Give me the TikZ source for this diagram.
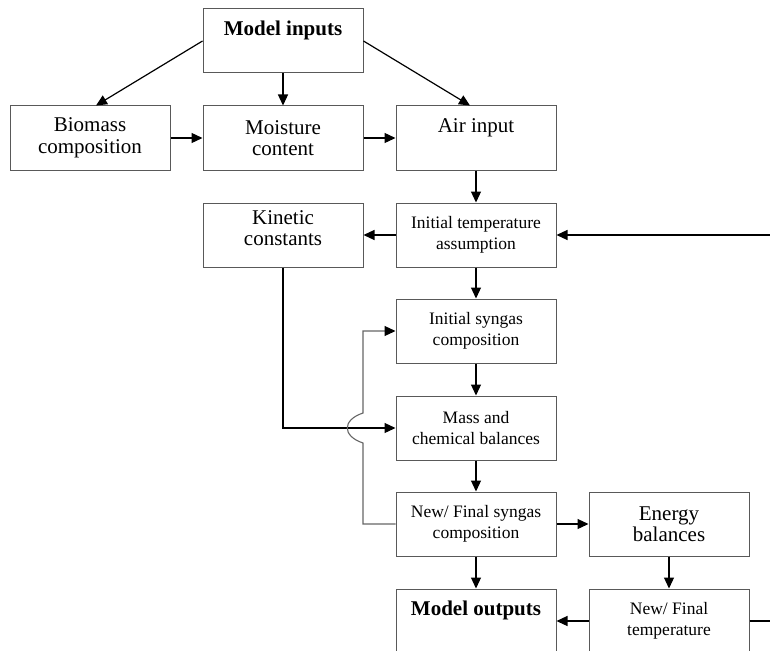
\documentclass[tikz,border=0pt]{standalone}
\usepackage{fontspec}
\setmainfont{Liberation Serif}
\usetikzlibrary{arrows.meta,calc}

\begin{document}
\begin{tikzpicture}[x=1pt,y=-1pt,
    box/.style={draw=black!65,line width=1pt,minimum width=160pt,minimum height=64pt,
      inner sep=0pt,align=center,font=\fontsize{21}{21.5}\selectfont},
    smallbox/.style={box,font=\fontsize{17.5}{20.5}\selectfont},
    boldbox/.style={box,font=\bfseries\fontsize{21}{21}\selectfont},
    arr/.style={line width=1.2pt,-{Triangle[length=11pt,width=10pt]}},
    loopline/.style={draw=black!60,line width=1.1pt,-{Triangle[length=11pt,width=10pt,color=black]}}]
    % columns and rows
    \def\xa{90}
    \def\xb{283}
    \def\xc{476}
    \def\xd{669}
    \def\ya{41}
    \def\yb{138}
    \def\yc{235}
    \def\yd{331}
    \def\ye{428}
    \def\yf{524}
    \def\yg{621}

    \useasboundingbox (0,0) rectangle (770,650);
    \clip (0,0) rectangle (770,650);

    % inputs
    \node[boldbox] (inputs) at (\xb,\ya) {Model inputs\\[4pt]\mbox{}};
    \node[box] (biomass) at (\xa,\yb) {Biomass\\composition};
    \node[box] (moisture) at (\xb,\yb) {Moisture\\content};
    \node[box] (air) at (\xc,\yb) {Air input\\[4pt]\mbox{}};

    % iteration
    \node[box] (kinetic) at (\xb,\yc) {Kinetic\\constants\\[-8pt]\mbox{}};
    \node[smallbox] (inittemp) at (\xc,\yc) {Initial temperature\\assumption};
    \node[smallbox] (initsyn) at (\xc,\yd) {Initial syngas\\composition};
    \node[smallbox] (mass) at (\xc,\ye) {Mass and\\chemical balances};
    \node[smallbox] (newsyn) at (\xc,\yf) {New/ Final syngas\\composition};
    \node[box] (energy) at (\xd,\yf) {Energy\\balances};

    % outputs
    \node[boldbox] (outputs) at (\xc,\yg) {Model outputs\\[4pt]\mbox{}};
    \node[smallbox] (newtemp) at (\xd,\yg) {New/ Final\\temperature};

    % free ends and line jump
    \coordinate (tempin) at (770,\yc);
    \coordinate (tempout) at (770,\yg);
    \coordinate (jump) at (363,\ye);

    % arrows
    \draw[arr] (inputs.west) -- ([xshift=6pt]biomass.north);
    \draw[arr] (inputs) -- (moisture);
    \draw[arr] (inputs.east) -- ([xshift=-6pt]air.north);
    \draw[arr] (biomass) -- (moisture);
    \draw[arr] (moisture) -- (air);
    \draw[arr] (air) -- (inittemp);
    \draw[arr] (inittemp) -- (kinetic);
    \draw[arr] (tempin) -- (inittemp);
    \draw[arr] (kinetic) |- (mass);
    \draw[arr] (inittemp) -- (initsyn);
    \draw[arr] (initsyn) -- (mass);
    \draw[arr] (mass) -- (newsyn);
    \draw[arr] (newsyn) -- (energy);
    \draw[arr] (newsyn) -- (outputs);
    \draw[arr] (energy) -- (newtemp);
    \draw[arr] (newtemp) -- (outputs);
    \draw[line width=1.2pt] (newtemp) -- (tempout);

    % loop back with jump over the kinetic line
    \draw[loopline] (newsyn.west) -- (jump |- newsyn.west) -- ($(jump)+(0,15)$)
      .. controls ($(jump)+(-21,8)$) and ($(jump)+(-21,-8)$) .. ($(jump)+(0,-15)$)
      -- (jump |- initsyn.west) -- (initsyn.west);
\end{tikzpicture}
\end{document}
